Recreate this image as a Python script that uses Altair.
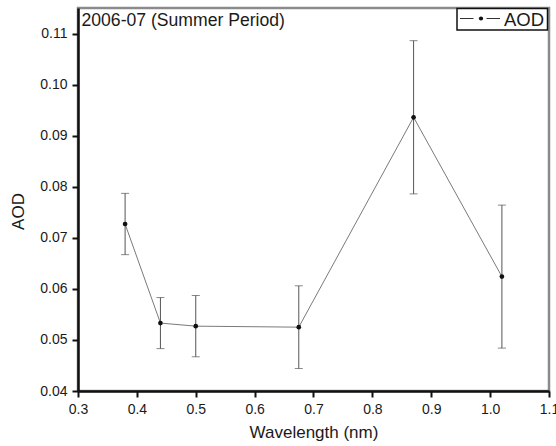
import altair as alt
import pandas as pd

# Spectral aerosol optical depth, 2006-07 summer period
wavelength = [0.38, 0.44, 0.50, 0.675, 0.87, 1.02]
aod = [0.0727, 0.0533, 0.0527, 0.0525, 0.0936, 0.0624]
aod_err = [0.0060, 0.0050, 0.0060, 0.0081, 0.0150, 0.0140]

x_ticks = [0.3, 0.35, 0.4, 0.45, 0.5, 0.55, 0.6, 0.65, 0.7, 0.75, 0.8, 0.85,
           0.9, 0.95, 1.0, 1.05, 1.1]
y_ticks = [0.04, 0.045, 0.05, 0.055, 0.06, 0.065, 0.07, 0.075, 0.08, 0.085,
           0.09, 0.095, 0.10, 0.105, 0.11, 0.115]

df = pd.DataFrame({
    "wavelength": wavelength,
    "aod": aod,
    "lo": [a - e for a, e in zip(aod, aod_err)],
    "hi": [a + e for a, e in zip(aod, aod_err)],
})

FONT = "Liberation Sans"
TEXT = "#1a1a1a"
W, H = 471, 383

x_major = "abs(datum.value*10 - round(datum.value*10)) < 0.001"
y_major = "abs(datum.value*100 - round(datum.value*100)) < 0.001"

x_scale = alt.Scale(domain=[0.3, 1.1], nice=False, zero=False)
y_scale = alt.Scale(domain=[0.04, 0.115], nice=False, zero=False)

x_axis = alt.Axis(
    values=x_ticks,
    labelExpr=f"{x_major} ? format(datum.value, '.1f') : ''",
    tickSize={"condition": {"test": x_major, "value": 6}, "value": 4},
    labelFlush=False, labelOverlap=False, labelPadding=5,
    title="Wavelength (nm)", titlePadding=8,
)
y_axis = alt.Axis(
    values=y_ticks,
    labelExpr=f"{y_major} ? format(datum.value, '.2f') : ''",
    tickSize={"condition": {"test": y_major, "value": 6}, "value": 4},
    labelFlush=False, labelOverlap=False, labelPadding=5,
    title="AOD", titleAngle=-90, titleX=-60, titleY=203,
    titleBaseline="middle", titleAlign="center",
)

base = alt.Chart(df)

line = base.mark_line(color="#7a7a7a", strokeWidth=1).encode(
    x=alt.X("wavelength:Q", scale=x_scale, axis=x_axis),
    y=alt.Y("aod:Q", scale=y_scale, axis=y_axis),
)

bars = base.mark_rule(color="#555555", strokeWidth=1).encode(
    x="wavelength:Q", y="lo:Q", y2="hi:Q"
)
cap_lo = base.mark_tick(color="#555555", thickness=1, size=8, orient="horizontal").encode(
    x="wavelength:Q", y="lo:Q"
)
cap_hi = base.mark_tick(color="#555555", thickness=1, size=8, orient="horizontal").encode(
    x="wavelength:Q", y="hi:Q"
)
points = base.mark_point(filled=True, color="#111111", size=22, opacity=1).encode(
    x="wavelength:Q", y="aod:Q"
)

# Panel label in the upper-left corner
panel = alt.Chart(pd.DataFrame({"t": ["2006-07 (Summer Period)"]})).mark_text(
    align="left", baseline="alphabetic", font=FONT, fontSize=17.6, color=TEXT
).encode(x=alt.value(3.5), y=alt.value(18), text="t:N")

# Boxed legend in the upper-right corner
leg_df = pd.DataFrame({"t": ["AOD"]})
leg_box = alt.Chart(leg_df).mark_rect(
    fill="white", stroke="#111111", strokeWidth=1.5
).encode(x=alt.value(379), x2=alt.value(469.5), y=alt.value(0.5), y2=alt.value(22))
leg_dash1 = alt.Chart(leg_df).mark_rule(color="#333333", strokeWidth=1).encode(
    x=alt.value(382), x2=alt.value(395.5), y=alt.value(10.5)
)
leg_dash2 = alt.Chart(leg_df).mark_rule(color="#333333", strokeWidth=1).encode(
    x=alt.value(408.5), x2=alt.value(422), y=alt.value(10.5)
)
leg_dot = alt.Chart(leg_df).mark_point(filled=True, color="#111111", size=18, opacity=1).encode(
    x=alt.value(403), y=alt.value(10.5)
)
leg_text = alt.Chart(leg_df).mark_text(
    align="left", baseline="middle", font=FONT, fontSize=18.5, color=TEXT
).encode(x=alt.value(426), y=alt.value(11.5), text="t:N")

chart = alt.layer(
    line, bars, cap_lo, cap_hi, points,
    panel, leg_box, leg_dash1, leg_dash2, leg_dot, leg_text,
).properties(
    width=W, height=H,
    autosize=alt.AutoSizeParams(type="none"),
    padding={"left": 78, "top": 8, "right": 7, "bottom": 55},
    background="white",
).configure_view(
    stroke="#8a8a8a", strokeWidth=2.5
).configure_axis(
    grid=False,
    domainColor="#111111", domainWidth=2.5,
    tickColor="#111111", tickWidth=2,
    labelFont=FONT, labelFontSize=14, labelColor=TEXT,
    titleFont=FONT, titleFontSize=17, titleFontWeight="normal", titleColor=TEXT,
)

chart.save("out.html", embed_options={"renderer": "svg", "actions": False})
